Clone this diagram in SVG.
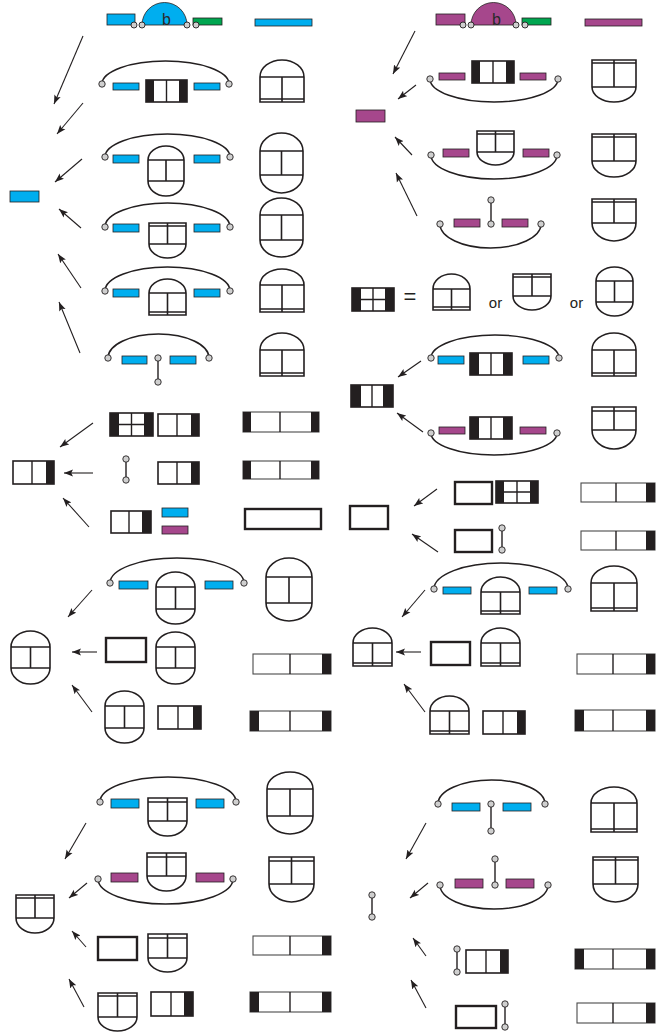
<svg xmlns="http://www.w3.org/2000/svg" width="668" height="1034" viewBox="0 0 668 1034">
<style>
  .ln{fill:none;stroke:#231f20;stroke-width:1.5}
  .sh{fill:#fff;stroke:#231f20;stroke-width:1.6}
  .thk{fill:#fff;stroke:#231f20;stroke-width:2.4}
  .bar{fill:#fff;stroke:#4a4a4a;stroke-width:1.1}
  .dv{stroke:#231f20;stroke-width:1.4}
  .blk{fill:#231f20}
  .bl{fill:#00aeef;stroke:#231f20;stroke-width:0.8}
  .pu{fill:#a6478c;stroke:#231f20;stroke-width:0.8}
  .gr{fill:#00a650;stroke:#231f20;stroke-width:0.8}
  .pt{fill:#cfcfcf;stroke:#231f20;stroke-width:0.9}
  .arr{stroke:#231f20;stroke-width:1.1;marker-end:url(#ah)}
  .b{font-family:"Liberation Sans",Arial,sans-serif;font-size:16px;fill:#2a2a2a;text-anchor:middle}
  .t{font-family:"Liberation Sans",Arial,sans-serif;fill:#231f20}
</style>
<defs>
  <marker id="ah" markerWidth="10" markerHeight="8" refX="9" refY="4" orient="auto" markerUnits="userSpaceOnUse">
    <path d="M0,0.6 L9,4 L0,7.4 L1.8,4 z" fill="#231f20"/>
  </marker>
</defs>

<rect width="668" height="1034" fill="#fff"/>

<!-- ===== blue strand, upper left ===== -->
<g id="blue-b">
  <rect class="bl" x="107" y="14" width="28" height="11"/>
  <path class="bl" d="M142 25 A22.5 22.5 0 0 1 187 25 Z"/>
  <text class="b" x="166.5" y="25">b</text>
  <rect class="gr" x="193" y="18" width="29" height="7"/>
  <circle class="pt" cx="134" cy="25" r="3"/><circle class="pt" cx="142" cy="25" r="3"/>
  <circle class="pt" cx="187" cy="25" r="3"/><circle class="pt" cx="196" cy="25" r="3"/>
</g>
<g id="blue-bar"><rect class="bl" x="255" y="19" width="57" height="7"/></g>

<g id="bl-r2">
  <path class="ln" d="M102 84 A63.5 23 0 0 1 229 84"/>
  <rect class="bl" x="113" y="83" width="26" height="7"/><rect class="bl" x="194" y="83" width="26" height="7"/>
  <rect class="sh" x="146" y="80" width="41" height="22"/><rect class="blk" x="146" y="80" width="8" height="22"/><rect class="blk" x="179" y="80" width="8" height="22"/>
  <line class="dv" x1="166.5" y1="80" x2="166.5" y2="102"/>
  <circle class="pt" cx="102" cy="84" r="3.2"/><circle class="pt" cx="229" cy="84" r="3.2"/>
</g>
<g id="bl-r2-out"><path class="sh" d="M260 77 A22 17 0 0 1 304 77 V102 H260 Z M260 77 H304 M282 77 V102 M260 99 H304"/></g>

<g id="bl-r3">
  <path class="ln" d="M105 157 A62.5 23 0 0 1 230 157"/>
  <rect class="bl" x="113" y="155" width="26" height="8"/><rect class="bl" x="194" y="155" width="26" height="8"/>
  <path class="sh" d="M148 160 A18 14 0 0 1 184 160 V181 A18 15 0 0 1 148 181 Z M148 160 H184 M148 181 H184 M166 160 V181"/>
  <circle class="pt" cx="105" cy="157" r="3.2"/><circle class="pt" cx="230" cy="157" r="3.2"/>
</g>
<g id="bl-r3-out"><path class="sh" d="M260 151 A21.5 18 0 0 1 303 151 V175 A21.5 18 0 0 1 260 175 Z M260 151 H303 M260 175 H303 M281.5 151 V175"/></g>

<g id="bl-r4">
  <path class="ln" d="M105 227 A62.5 24 0 0 1 230 227"/>
  <rect class="bl" x="113" y="224" width="26" height="8"/><rect class="bl" x="194" y="224" width="26" height="8"/>
  <path class="sh" d="M149 223 H186 V244 A18.5 14 0 0 1 149 244 Z M149 226 H186 M149 244 H186 M167.5 223 V244"/>
  <circle class="pt" cx="105" cy="227" r="3.2"/><circle class="pt" cx="230" cy="227" r="3.2"/>
</g>
<g id="bl-r4-out"><path class="sh" d="M260 215 A21.5 17 0 0 1 303 215 V240 A21.5 17 0 0 1 260 240 Z M260 215 H303 M260 240 H303 M281.5 215 V240"/></g>

<g id="bl-r5">
  <path class="ln" d="M105 291 A62.5 24 0 0 1 230 291"/>
  <rect class="bl" x="113" y="289" width="26" height="8"/><rect class="bl" x="194" y="289" width="26" height="8"/>
  <path class="sh" d="M149 293 A18.5 14 0 0 1 186 293 V315 H149 Z M149 293 H186 M167.5 293 V315 M149 312 H186"/>
  <circle class="pt" cx="105" cy="291" r="3.2"/><circle class="pt" cx="230" cy="291" r="3.2"/>
</g>
<g id="bl-r5-out"><path class="sh" d="M260 285 A22 16 0 0 1 304 285 V312 H260 Z M260 285 H304 M282 285 V312 M260 309 H304"/></g>

<g id="bl-r6">
  <path class="ln" d="M108 358 A50.5 24 0 0 1 209 358"/>
  <rect class="bl" x="122" y="356" width="25" height="8"/><rect class="bl" x="170" y="356" width="26" height="8"/>
  <line class="dv" x1="158" y1="358" x2="158" y2="382"/>
  <circle class="pt" cx="158" cy="358" r="3.2"/><circle class="pt" cx="158" cy="382" r="3.2"/>
  <circle class="pt" cx="108" cy="358" r="3.2"/><circle class="pt" cx="209" cy="358" r="3.2"/>
</g>
<g id="bl-r6-out"><path class="sh" d="M260 350 A22 17 0 0 1 304 350 V376 H260 Z M260 350 H304 M282 350 V376 M260 373 H304"/></g>

<g id="blue-left"><rect class="bl" x="10" y="191" width="29" height="11"/></g>

<!-- ===== purple strand, upper right ===== -->
<g id="purple-b">
  <rect class="pu" x="436" y="14" width="29" height="11"/>
  <path class="pu" d="M471 25 A22.5 22.5 0 0 1 516 25 Z"/>
  <text class="b" x="496.5" y="25">b</text>
  <rect class="gr" x="522" y="18" width="29" height="7"/>
  <circle class="pt" cx="463" cy="25" r="3"/><circle class="pt" cx="471" cy="25" r="3"/>
  <circle class="pt" cx="516" cy="25" r="3"/><circle class="pt" cx="525" cy="25" r="3"/>
</g>
<g id="purple-bar"><rect class="pu" x="585" y="19" width="57" height="7"/></g>

<g id="pu-r2">
  <path class="ln" d="M430 79 A64 23 0 0 0 558 79"/>
  <rect class="pu" x="439" y="73" width="26" height="7"/><rect class="pu" x="520" y="73" width="26" height="7"/>
  <rect class="sh" x="472" y="61" width="42" height="22"/><rect class="blk" x="472" y="61" width="8" height="22"/><rect class="blk" x="506" y="61" width="8" height="22"/>
  <line class="dv" x1="493" y1="61" x2="493" y2="83"/>
  <circle class="pt" cx="430" cy="79" r="3.2"/><circle class="pt" cx="558" cy="79" r="3.2"/>
</g>
<g id="pu-r2-out"><path class="sh" d="M592 60 H636 V87 A22 15 0 0 1 592 87 Z M592 63 H636 M592 87 H636 M614 60 V87"/></g>

<g id="pu-r3">
  <path class="ln" d="M431 155 A63 24 0 0 0 557 155"/>
  <rect class="pu" x="443" y="149" width="26" height="8"/><rect class="pu" x="523" y="149" width="26" height="8"/>
  <path class="sh" d="M477 131 H514 V152 A18.5 13 0 0 1 477 152 Z M477 134 H514 M477 152 H514 M495.5 131 V152"/>
  <circle class="pt" cx="431" cy="155" r="3.2"/><circle class="pt" cx="557" cy="155" r="3.2"/>
</g>
<g id="pu-r3-out"><path class="sh" d="M592 134 H636 V161 A22 16 0 0 1 592 161 Z M592 137 H636 M592 161 H636 M614 134 V161"/></g>

<g id="pu-r4">
  <path class="ln" d="M440 224 A50.5 24 0 0 0 541 224"/>
  <rect class="pu" x="454" y="219" width="26" height="8"/><rect class="pu" x="502" y="219" width="26" height="8"/>
  <line class="dv" x1="491" y1="224" x2="491" y2="200"/>
  <circle class="pt" cx="491" cy="224" r="3.2"/><circle class="pt" cx="491" cy="200" r="3.2"/>
  <circle class="pt" cx="440" cy="224" r="3.2"/><circle class="pt" cx="541" cy="224" r="3.2"/>
</g>
<g id="pu-r4-out"><path class="sh" d="M592 199 H636 V223 A22 18 0 0 1 592 223 Z M592 202 H636 M592 223 H636 M614 199 V223"/></g>

<g id="purple-left"><rect class="pu" x="356" y="110" width="29" height="12"/></g>

<!-- ===== equivalence line ===== -->
<g id="grid-key">
  <rect class="sh" x="352" y="288" width="42" height="23"/>
  <rect class="blk" x="352" y="288" width="9" height="23"/><rect class="blk" x="385" y="288" width="9" height="23"/>
  <path class="dv" d="M373 288 V311 M361 299.5 H385"/>
</g>
<text class="t" x="410" y="304" font-size="22" text-anchor="middle">=</text>
<g id="key-a"><path class="sh" d="M433 289 A18.5 15 0 0 1 470 289 V310 H433 Z M433 289 H470 M451.5 289 V310 M433 307 H470"/></g>
<text class="t" x="495.5" y="308" font-size="15" text-anchor="middle">or</text>
<g id="key-b"><path class="sh" d="M513 274 H551 V296 A19 14 0 0 1 513 296 Z M513 277 H551 M513 296 H551 M532 274 V296"/></g>
<text class="t" x="576.5" y="308" font-size="15" text-anchor="middle">or</text>
<g id="key-c"><path class="sh" d="M596 281 A18.5 14 0 0 1 633 281 V302 A18.5 14 0 0 1 596 302 Z M596 281 H633 M596 302 H633 M614.5 281 V302"/></g>

<!-- ===== double-black block ===== -->
<g id="bk-r1">
  <path class="ln" d="M431 358 A64 23 0 0 1 559 358"/>
  <rect class="bl" x="438" y="356" width="26" height="8"/><rect class="bl" x="523" y="356" width="26" height="8"/>
  <rect class="sh" x="470" y="353" width="42" height="22"/><rect class="blk" x="470" y="353" width="9" height="22"/><rect class="blk" x="503" y="353" width="9" height="22"/>
  <line class="dv" x1="491" y1="353" x2="491" y2="375"/>
  <circle class="pt" cx="431" cy="358" r="3.2"/><circle class="pt" cx="559" cy="358" r="3.2"/>
</g>
<g id="bk-r1-out"><path class="sh" d="M592 350 A22 17 0 0 1 636 350 V376 H592 Z M592 350 H636 M614 350 V376 M592 373 H636"/></g>
<g id="bk-left">
  <rect class="sh" x="351" y="385" width="42" height="22"/><rect class="blk" x="351" y="385" width="10" height="22"/><rect class="blk" x="383" y="385" width="10" height="22"/>
  <line class="dv" x1="372" y1="385" x2="372" y2="407"/>
</g>
<g id="bk-r2">
  <path class="ln" d="M431 433 A63 22 0 0 0 557 433"/>
  <rect class="pu" x="439" y="427" width="26" height="7"/><rect class="pu" x="520" y="427" width="26" height="7"/>
  <rect class="sh" x="470" y="417" width="42" height="22"/><rect class="blk" x="470" y="417" width="9" height="22"/><rect class="blk" x="503" y="417" width="9" height="22"/>
  <line class="dv" x1="491" y1="417" x2="491" y2="439"/>
  <circle class="pt" cx="431" cy="433" r="3.2"/><circle class="pt" cx="557" cy="433" r="3.2"/>
</g>
<g id="bk-r2-out"><path class="sh" d="M592 407 H636 V430 A22 19 0 0 1 592 430 Z M592 411 H636 M592 430 H636 M614 407 V430"/></g>

<!-- ===== right-black block, middle left ===== -->
<g id="rb-r1">
  <rect class="sh" x="110" y="413" width="43" height="23"/>
  <rect class="blk" x="110" y="413" width="9" height="23"/><rect class="blk" x="144" y="413" width="9" height="23"/>
  <path class="dv" d="M131.5 413 V436 M119 424.5 H144"/>
  <rect class="sh" x="158" y="414" width="41" height="22"/><rect class="blk" x="191" y="414" width="8" height="22"/>
  <line class="dv" x1="177" y1="414" x2="177" y2="436"/>
</g>
<g id="rb-r1-out">
  <rect class="bar" x="243" y="412" width="76" height="20"/><rect class="blk" x="243" y="412" width="8" height="20"/><rect class="blk" x="311" y="412" width="8" height="20"/>
  <line class="dv" x1="280" y1="412" x2="280" y2="432"/>
</g>
<g id="rb-left">
  <rect class="sh" x="13" y="461" width="41" height="23"/><rect class="blk" x="46" y="461" width="8" height="23"/>
  <line class="dv" x1="32" y1="461" x2="32" y2="484"/>
</g>
<g id="rb-r2">
  <line class="dv" x1="126" y1="459" x2="126" y2="480"/>
  <circle class="pt" cx="126" cy="459" r="3.2"/><circle class="pt" cx="126" cy="480" r="3.2"/>
  <rect class="sh" x="158" y="462" width="41" height="22"/><rect class="blk" x="191" y="462" width="8" height="22"/>
  <line class="dv" x1="177" y1="462" x2="177" y2="484"/>
</g>
<g id="rb-r2-out">
  <rect class="bar" x="243" y="461" width="76" height="18"/><rect class="blk" x="243" y="461" width="8" height="18"/><rect class="blk" x="311" y="461" width="8" height="18"/>
  <line class="dv" x1="280" y1="461" x2="280" y2="479"/>
</g>
<g id="rb-r3">
  <rect class="sh" x="111" y="511" width="40" height="22"/><rect class="blk" x="142" y="511" width="9" height="22"/>
  <line class="dv" x1="129" y1="511" x2="129" y2="533"/>
  <rect class="bl" x="162" y="508" width="26" height="9"/><rect class="pu" x="162" y="526" width="26" height="8"/>
</g>
<g id="rb-r3-out"><rect class="thk" x="245" y="509" width="76" height="20"/></g>

<!-- ===== plain box, middle right ===== -->
<g id="pb-r1">
  <rect class="thk" x="455" y="482" width="37" height="22"/>
  <rect class="sh" x="496" y="481" width="42" height="22"/>
  <rect class="blk" x="496" y="481" width="8" height="22"/><rect class="blk" x="530" y="481" width="8" height="22"/>
  <path class="dv" d="M517 481 V503 M504 492 H530"/>
</g>
<g id="pb-r1-out">
  <rect class="bar" x="581" y="483" width="74" height="19"/><rect class="blk" x="646" y="483" width="9" height="19"/>
  <line class="dv" x1="616" y1="483" x2="616" y2="502"/>
</g>
<g id="pb-left"><rect class="thk" x="350" y="506" width="38" height="23"/></g>
<g id="pb-r2">
  <rect class="thk" x="455" y="530" width="37" height="22"/>
  <line class="dv" x1="502" y1="528" x2="502" y2="550"/>
  <circle class="pt" cx="502" cy="528" r="3.2"/><circle class="pt" cx="502" cy="550" r="3.2"/>
</g>
<g id="pb-r2-out">
  <rect class="bar" x="581" y="531" width="74" height="19"/><rect class="blk" x="646" y="531" width="9" height="19"/>
  <line class="dv" x1="616" y1="531" x2="616" y2="550"/>
</g>

<!-- ===== capsule window, lower left ===== -->
<g id="cw-r1">
  <path class="ln" d="M110 583 A67 25 0 0 1 244 583"/>
  <rect class="bl" x="119" y="581" width="29" height="8"/><rect class="bl" x="205" y="581" width="28" height="8"/>
  <path class="sh" d="M156 587 A19.5 15 0 0 1 195 587 V609 A19.5 15 0 0 1 156 609 Z M156 587 H195 M156 609 H195 M175.5 587 V609"/>
  <circle class="pt" cx="110" cy="583" r="3.2"/><circle class="pt" cx="244" cy="583" r="3.2"/>
</g>
<g id="cw-r1-out"><path class="sh" d="M266 577 A23 19 0 0 1 312 577 V603 A23 18 0 0 1 266 603 Z M266 577 H312 M266 603 H312 M289 577 V603"/></g>
<g id="cw-left"><path class="sh" d="M11 647 A19.5 16 0 0 1 50 647 V668 A19.5 16 0 0 1 11 668 Z M11 647 H50 M11 668 H50 M30.5 647 V668"/></g>
<g id="cw-r2">
  <rect class="thk" x="106" y="638" width="40" height="24"/>
  <path class="sh" d="M156 647 A19.5 15 0 0 1 195 647 V668 A19.5 16 0 0 1 156 668 Z M156 647 H195 M156 668 H195 M175.5 647 V668"/>
</g>
<g id="cw-r2-out">
  <rect class="bar" x="253" y="654" width="78" height="20"/><rect class="blk" x="322" y="654" width="9" height="20"/>
  <line class="dv" x1="290" y1="654" x2="290" y2="674"/>
</g>
<g id="cw-r3">
  <path class="sh" d="M105 706 A19.5 15 0 0 1 144 706 V728 A19.5 15 0 0 1 105 728 Z M105 706 H144 M105 728 H144 M124.5 706 V728"/>
  <rect class="sh" x="158" y="706" width="43" height="23"/><rect class="blk" x="193" y="706" width="8" height="23"/>
  <line class="dv" x1="178" y1="706" x2="178" y2="729"/>
</g>
<g id="cw-r3-out">
  <rect class="bar" x="250" y="711" width="81" height="20"/><rect class="blk" x="250" y="711" width="9" height="20"/><rect class="blk" x="322" y="711" width="9" height="20"/>
  <line class="dv" x1="290" y1="711" x2="290" y2="731"/>
</g>

<!-- ===== arched window, lower right ===== -->
<g id="aw-r1">
  <path class="ln" d="M434 589 A67 26 0 0 1 568 589"/>
  <rect class="bl" x="443" y="587" width="28" height="7"/><rect class="bl" x="529" y="587" width="28" height="7"/>
  <path class="sh" d="M481 592 A19.5 15 0 0 1 520 592 V614 H481 Z M481 592 H520 M500.5 592 V614 M481 611 H520"/>
  <circle class="pt" cx="434" cy="589" r="3.2"/><circle class="pt" cx="568" cy="589" r="3.2"/>
</g>
<g id="aw-r1-out"><path class="sh" d="M591 583 A23 17 0 0 1 637 583 V611 H591 Z M591 583 H637 M614 583 V611 M591 608 H637"/></g>
<g id="aw-left"><path class="sh" d="M353 643 A19.5 15 0 0 1 392 643 V666 H353 Z M353 643 H392 M372.5 643 V666 M353 663 H392"/></g>
<g id="aw-r2">
  <rect class="thk" x="431" y="642" width="39" height="23"/>
  <path class="sh" d="M481 643 A19.5 15 0 0 1 520 643 V666 H481 Z M481 643 H520 M500.5 643 V666 M481 663 H520"/>
</g>
<g id="aw-r2-out">
  <rect class="bar" x="577" y="654" width="78" height="20"/><rect class="blk" x="646" y="654" width="9" height="20"/>
  <line class="dv" x1="613" y1="654" x2="613" y2="674"/>
</g>
<g id="aw-r3">
  <path class="sh" d="M430 711 A19.5 15 0 0 1 469 711 V734 H430 Z M430 711 H469 M449.5 711 V734 M430 731 H469"/>
  <rect class="sh" x="483" y="711" width="42" height="23"/><rect class="blk" x="517" y="711" width="8" height="23"/>
  <line class="dv" x1="503" y1="711" x2="503" y2="734"/>
</g>
<g id="aw-r3-out">
  <rect class="bar" x="575" y="710" width="80" height="21"/><rect class="blk" x="575" y="710" width="9" height="21"/><rect class="blk" x="646" y="710" width="9" height="21"/>
  <line class="dv" x1="613" y1="710" x2="613" y2="731"/>
</g>

<!-- ===== bowl window, bottom left ===== -->
<g id="bw-r1">
  <path class="ln" d="M100 802 A68 25 0 0 1 236 802"/>
  <rect class="bl" x="111" y="799" width="28" height="9"/><rect class="bl" x="196" y="799" width="28" height="9"/>
  <path class="sh" d="M148 798 H187 V821 A19.5 15 0 0 1 148 821 Z M148 802 H187 M148 821 H187 M167.5 798 V821"/>
  <circle class="pt" cx="100" cy="802" r="3.2"/><circle class="pt" cx="236" cy="802" r="3.2"/>
</g>
<g id="bw-r1-out"><path class="sh" d="M267 789 A23 17 0 0 1 313 789 V816 A23 18 0 0 1 267 816 Z M267 789 H313 M267 816 H313 M290 789 V816"/></g>
<g id="bw-r2">
  <path class="ln" d="M98 879 A67.5 25 0 0 0 233 879"/>
  <rect class="pu" x="111" y="873" width="27" height="9"/><rect class="pu" x="196" y="873" width="28" height="9"/>
  <path class="sh" d="M147 853 H186 V876 A19.5 15 0 0 1 147 876 Z M147 857 H186 M147 876 H186 M166.5 853 V876"/>
  <circle class="pt" cx="98" cy="879" r="3.2"/><circle class="pt" cx="233" cy="879" r="3.2"/>
</g>
<g id="bw-r2-out"><path class="sh" d="M269 857 H314 V884 A22.5 18 0 0 1 269 884 Z M269 861 H314 M269 884 H314 M291.5 857 V884"/></g>
<g id="bw-left"><path class="sh" d="M16 895 H54 V918 A19 15 0 0 1 16 918 Z M16 898 H54 M16 918 H54 M35 895 V918"/></g>
<g id="bw-r3">
  <rect class="thk" x="98" y="937" width="39" height="23"/>
  <path class="sh" d="M148 934 H187 V958 A19.5 14 0 0 1 148 958 Z M148 938 H187 M148 958 H187 M167.5 934 V958"/>
</g>
<g id="bw-r3-out">
  <rect class="bar" x="253" y="936" width="78" height="19"/><rect class="blk" x="322" y="936" width="9" height="19"/>
  <line class="dv" x1="290" y1="936" x2="290" y2="955"/>
</g>
<g id="bw-r4">
  <path class="sh" d="M98 993 H137 V1017 A19.5 14 0 0 1 98 1017 Z M98 996 H137 M98 1017 H137 M117.5 993 V1017"/>
  <rect class="sh" x="151" y="992" width="42" height="24"/><rect class="blk" x="184" y="992" width="9" height="24"/>
  <line class="dv" x1="171" y1="992" x2="171" y2="1016"/>
</g>
<g id="bw-r4-out">
  <rect class="bar" x="250" y="992" width="81" height="20"/><rect class="blk" x="250" y="992" width="9" height="20"/><rect class="blk" x="322" y="992" width="9" height="20"/>
  <line class="dv" x1="290" y1="992" x2="290" y2="1012"/>
</g>

<!-- ===== pin, bottom right ===== -->
<g id="pn-r1">
  <path class="ln" d="M438 804 A53.5 24 0 0 1 545 804"/>
  <rect class="bl" x="452" y="803" width="28" height="8"/><rect class="bl" x="503" y="803" width="28" height="8"/>
  <line class="dv" x1="491" y1="804" x2="491" y2="831"/>
  <circle class="pt" cx="491" cy="804" r="3.2"/><circle class="pt" cx="491" cy="831" r="3.2"/>
  <circle class="pt" cx="438" cy="804" r="3.2"/><circle class="pt" cx="545" cy="804" r="3.2"/>
</g>
<g id="pn-r1-out"><path class="sh" d="M591 803 A23 16 0 0 1 637 803 V832 H591 Z M591 803 H637 M614 803 V832 M591 829 H637"/></g>
<g id="pn-r2">
  <path class="ln" d="M440 885 A54 24 0 0 0 548 885"/>
  <rect class="pu" x="455" y="879" width="28" height="9"/><rect class="pu" x="506" y="879" width="28" height="9"/>
  <line class="dv" x1="495" y1="885" x2="495" y2="859"/>
  <circle class="pt" cx="495" cy="885" r="3.2"/><circle class="pt" cx="495" cy="859" r="3.2"/>
  <circle class="pt" cx="440" cy="885" r="3.2"/><circle class="pt" cx="548" cy="885" r="3.2"/>
</g>
<g id="pn-r2-out"><path class="sh" d="M593 857 H638 V884 A22.5 18 0 0 1 593 884 Z M593 860 H638 M593 884 H638 M615.5 857 V884"/></g>
<g id="pn-left">
  <line class="dv" x1="372" y1="895" x2="372" y2="917"/>
  <circle class="pt" cx="372" cy="895" r="3.2"/><circle class="pt" cx="372" cy="917" r="3.2"/>
</g>
<g id="pn-r3">
  <line class="dv" x1="457" y1="949" x2="457" y2="972"/>
  <circle class="pt" cx="457" cy="949" r="3.2"/><circle class="pt" cx="457" cy="972" r="3.2"/>
  <rect class="sh" x="466" y="950" width="42" height="23"/><rect class="blk" x="500" y="950" width="8" height="23"/>
  <line class="dv" x1="486" y1="950" x2="486" y2="973"/>
</g>
<g id="pn-r3-out">
  <rect class="bar" x="575" y="949" width="80" height="20"/><rect class="blk" x="575" y="949" width="9" height="20"/><rect class="blk" x="646" y="949" width="9" height="20"/>
  <line class="dv" x1="613" y1="949" x2="613" y2="969"/>
</g>
<g id="pn-r4">
  <rect class="thk" x="456" y="1006" width="40" height="22"/>
  <line class="dv" x1="505" y1="1004" x2="505" y2="1027"/>
  <circle class="pt" cx="505" cy="1004" r="3.2"/><circle class="pt" cx="505" cy="1027" r="3.2"/>
</g>
<g id="pn-r4-out">
  <rect class="bar" x="577" y="1003" width="78" height="20"/><rect class="blk" x="646" y="1003" width="9" height="20"/>
  <line class="dv" x1="613" y1="1003" x2="613" y2="1023"/>
</g>

<!-- ===== arrows ===== -->
<g id="connectors">
  <line class="arr" x1="83" y1="36" x2="54" y2="104"/>
  <line class="arr" x1="83" y1="103" x2="57" y2="134"/>
  <line class="arr" x1="82" y1="159" x2="55" y2="182"/>
  <line class="arr" x1="81" y1="228" x2="59" y2="209"/>
  <line class="arr" x1="81" y1="288" x2="58" y2="254"/>
  <line class="arr" x1="80" y1="353" x2="59" y2="302"/>

  <line class="arr" x1="415" y1="31" x2="393" y2="74"/>
  <line class="arr" x1="416" y1="85" x2="398" y2="99"/>
  <line class="arr" x1="412" y1="155" x2="395" y2="137"/>
  <line class="arr" x1="417" y1="216" x2="396" y2="173"/>

  <line class="arr" x1="421" y1="361" x2="398" y2="377"/>
  <line class="arr" x1="423" y1="432" x2="397" y2="413"/>

  <line class="arr" x1="93" y1="423" x2="60" y2="447"/>
  <line class="arr" x1="93" y1="473" x2="64" y2="473"/>
  <line class="arr" x1="89" y1="527" x2="63" y2="498"/>

  <line class="arr" x1="437" y1="489" x2="414" y2="506"/>
  <line class="arr" x1="438" y1="552" x2="412" y2="534"/>

  <line class="arr" x1="92" y1="590" x2="68" y2="617"/>
  <line class="arr" x1="97" y1="652" x2="72" y2="652"/>
  <line class="arr" x1="92" y1="712" x2="72" y2="685"/>

  <line class="arr" x1="425" y1="590" x2="402" y2="617"/>
  <line class="arr" x1="421" y1="652" x2="396" y2="652"/>
  <line class="arr" x1="425" y1="712" x2="404" y2="684"/>

  <line class="arr" x1="86" y1="823" x2="65" y2="859"/>
  <line class="arr" x1="87" y1="883" x2="69" y2="898"/>
  <line class="arr" x1="86" y1="947" x2="72" y2="931"/>
  <line class="arr" x1="84" y1="1007" x2="69" y2="979"/>

  <line class="arr" x1="426" y1="823" x2="406" y2="859"/>
  <line class="arr" x1="428" y1="883" x2="410" y2="898"/>
  <line class="arr" x1="426" y1="956" x2="413" y2="938"/>
  <line class="arr" x1="426" y1="1008" x2="411" y2="980"/>
</g>
</svg>
